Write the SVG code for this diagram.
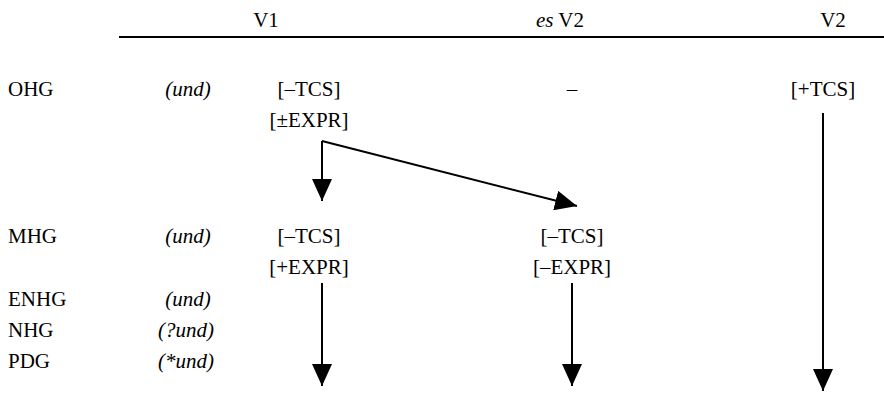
<svg xmlns="http://www.w3.org/2000/svg" width="884" height="394" viewBox="0 0 884 394" font-family="Liberation Serif, Times New Roman, Times, serif">
<style>
text{font-family:"Liberation Serif","Times New Roman",Times,serif;font-size:21px;fill:#000}
.c{text-anchor:middle}
.i{font-style:italic}
.ln{stroke:#000;stroke-width:2;fill:none}
</style>
<defs>
<marker id="ah" markerWidth="11" markerHeight="10" refX="11" refY="5" orient="auto" markerUnits="strokeWidth">
<path d="M0,0 L11,5 L0,10 Z" fill="#000"/>
</marker>
</defs>
<g id="header">
<text class="c" x="266" y="27">V1</text>
<text class="c" x="560" y="27"><tspan class="i">es</tspan> V2</text>
<text class="c" x="833" y="27">V2</text>
<line x1="119" y1="37" x2="884" y2="37" stroke="#000" stroke-width="2"/>
</g>
<g id="row-labels">
<text x="8" y="96">OHG</text>
<text x="8" y="243">MHG</text>
<text x="8" y="306">ENHG</text>
<text x="8" y="337">NHG</text>
<text x="8" y="368">PDG</text>
<text class="c i" x="188" y="96">(und)</text>
<text class="c i" x="188" y="243">(und)</text>
<text class="c i" x="188" y="306">(und)</text>
<text class="c i" x="186" y="337">(?und)</text>
<text class="c i" x="186" y="368">(*und)</text>
</g>
<g id="ohg-v1">
<text class="c" x="309" y="96">[–TCS]</text>
<text class="c" x="309" y="127">[±EXPR]</text>
</g>
<g id="ohg-esv2"><text class="c" x="572" y="96">–</text></g>
<g id="ohg-v2"><text class="c" x="823" y="96">[+TCS]</text></g>
<g id="mhg-v1">
<text class="c" x="309" y="243">[–TCS]</text>
<text class="c" x="309" y="274">[+EXPR]</text>
</g>
<g id="mhg-esv2">
<text class="c" x="572" y="243">[–TCS]</text>
<text class="c" x="572" y="274">[–EXPR]</text>
</g>
<g id="connectors">
<line class="ln" x1="322" y1="141" x2="322" y2="201" marker-end="url(#ah)"/>
<line class="ln" x1="322" y1="141" x2="577" y2="206" marker-end="url(#ah)"/>
<line class="ln" x1="322" y1="283" x2="322" y2="386" marker-end="url(#ah)"/>
<line class="ln" x1="572" y1="283" x2="572" y2="386" marker-end="url(#ah)"/>
<line class="ln" x1="823" y1="113" x2="823" y2="391" marker-end="url(#ah)"/>
</g>
</svg>
